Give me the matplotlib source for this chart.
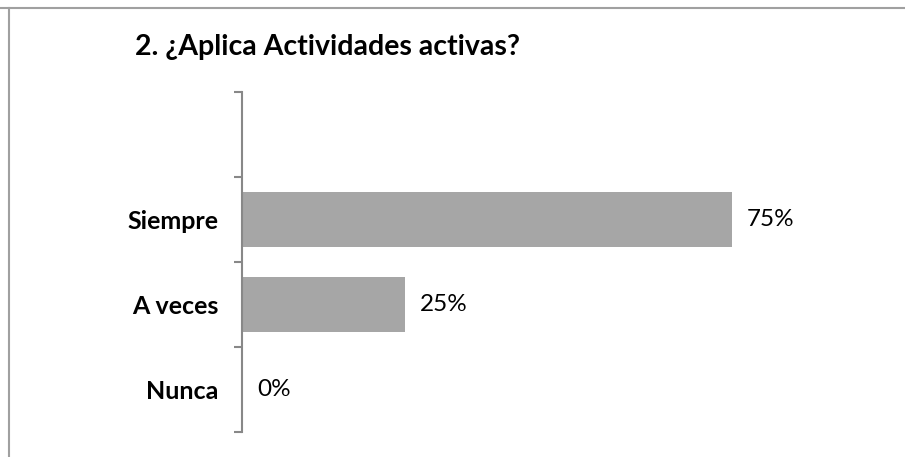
import matplotlib
matplotlib.use("Agg")
import matplotlib.pyplot as plt
from matplotlib.lines import Line2D
import numpy as np

plt.rcParams['font.family'] = ['Lato', 'DejaVu Sans']

categories = ['Nunca', 'A veces', 'Siempre', '']
values = [0.0, 0.25, 0.75]
value_labels = ['0%', '25%', '75%']
title = '2. ¿Aplica Actividades activas?'

fig = plt.figure(figsize=(9.05, 4.57), dpi=100)
ax = fig.add_axes([242/905, 25/457, 653/905, 340/457])

pos = np.arange(len(values))
ax.barh(pos, values, height=0.65, color='#A6A6A6', edgecolor='none')
ax.set_xlim(0, 1)
ax.set_ylim(-0.5, 3.5)

ax.set_yticks(np.arange(len(categories)))
ax.set_yticklabels(categories, fontsize=18, fontweight='bold')
ax.tick_params(axis='y', which='major', length=0, pad=17)
ax.set_yticks(np.arange(-0.5, 3.6, 1), minor=True)
ax.tick_params(axis='y', which='minor', length=6, width=1.5, color='#888888')
ax.set_xticks([])
for s in ['top', 'right', 'bottom']:
    ax.spines[s].set_visible(False)
ax.spines['left'].set_color('#888888')
ax.spines['left'].set_linewidth(1.5)

for p, v, lab in zip(pos, values, value_labels):
    ax.annotate(lab, xy=(v, p), xytext=(15, 0), textcoords='offset pixels',
                va='center', ha='left', fontsize=17.5)

fig.text(135/905, 1 - 47/457, title, fontsize=20.5, fontweight='bold',
         ha='left', va='center')

fig.add_artist(Line2D([0, 1], [1 - 8/457, 1 - 8/457], transform=fig.transFigure,
                      color='#a0a0a0', lw=1.5))
fig.add_artist(Line2D([9/905, 9/905], [0, 1 - 8/457], transform=fig.transFigure,
                      color='#a0a0a0', lw=1.5))

fig.savefig('out.png', dpi=100)
